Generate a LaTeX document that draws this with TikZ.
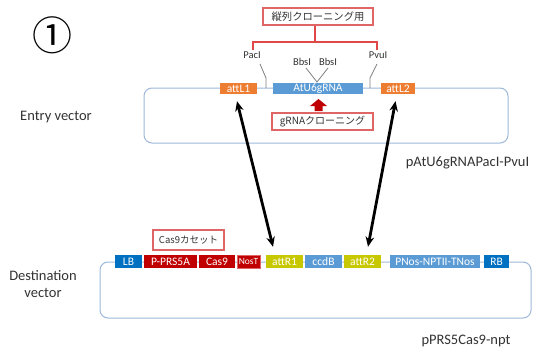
\documentclass[tikz,border=0pt]{standalone}
\usepackage{fontspec}
\setmainfont{Carlito}
\newfontfamily\jp{Noto Sans CJK JP}
\usetikzlibrary{arrows.meta,calc}
\definecolor{orangeL}{HTML}{ED7D31}
\definecolor{lblue}{HTML}{5B9BD5}
\definecolor{dblue}{HTML}{0070C0}
\definecolor{dred}{HTML}{C00000}
\definecolor{ylw}{HTML}{C8C800}
\definecolor{bbone}{HTML}{9DB9D9}
\definecolor{boxred}{HTML}{E06666}
\definecolor{brk}{HTML}{E04848}
\definecolor{txt}{HTML}{333333}
\definecolor{tick}{HTML}{808080}
\tikzset{
  seg/.style={inner sep=0pt, text=white, font=\fontsize{11.5}{12}\selectfont},
  eseg/.style={seg, minimum height=11pt},
  dseg/.style={seg, minimum height=13pt},
  backbone/.style={draw=bbone, line width=1pt, rounded corners=8pt},
  notebox/.style={draw=boxred, line width=1.1pt, fill=white, inner sep=0pt, text=txt},
  biglabel/.style={text=txt, font=\fontsize{14.5}{17}\selectfont, inner sep=0pt},
  site/.style={text=txt, font=\fontsize{10.5}{11}\selectfont, inner sep=0pt},
  siteline/.style={draw=tick, line width=0.8pt},
  bracket/.style={draw=brk, line width=1.2pt},
  dbl/.style={line width=2.8pt, {Stealth[length=10pt,width=8.5pt]}-{Stealth[length=10pt,width=8.5pt]}}
}
\begin{document}
\begin{tikzpicture}[x=1pt,y=-1pt]
\useasboundingbox (0,0) rectangle (534,348);
\fill[white] (0,0) rectangle (534,348);

% circled number
\node[inner sep=0pt, font=\jp\fontsize{40}{40}\selectfont] (num) at (52,35.5) {①};

% ---------- Entry vector ----------
\draw[backbone] (144,88) rectangle (508,143);
\node[biglabel] (entry) at (56,117) {Entry vector};

\node[eseg, fill=orangeL, minimum width=37pt] (attL1) at (238.5,88.5) {attL1};
\node[eseg, fill=lblue, minimum width=90pt] (u6) at (318,88.5) {AtU6gRNA};
\node[eseg, fill=orangeL, minimum width=34pt] (attL2) at (398,88.5) {attL2};

% restriction sites
\node[site] (pac) at (252,55) {PacI};
\node[site] (bbs1) at (302,62) {BbsI};
\node[site] (bbs2) at (328,62) {BbsI};
\node[site] (pvu) at (378,55) {PvuI};
\coordinate (pacA) at (260,64);
\coordinate (pacB) at (266,78);
\coordinate (pacC) at (266,88);
\coordinate (pvuA) at (377,64);
\coordinate (pvuB) at (370,78);
\coordinate (pvuC) at (370,88);
\coordinate (bbsA) at (306,68);
\coordinate (bbsB) at (328,68);
\coordinate (bbsV) at (317,82);
\draw[siteline] (pacA) -- (pacB) -- (pacC);
\draw[siteline] (pvuA) -- (pvuB) -- (pvuC);
\draw[siteline] (bbsA) -- (bbsV) -- (bbsB);

% tandem cloning bracket
\node[notebox, minimum width=110pt, minimum height=17pt, font=\jp\fontsize{10.3}{10}\selectfont] (tandem) at (318,16.5) {縦列クローニング用};
\coordinate (brL) at (253,50);
\coordinate (brLt) at (253,42);
\coordinate (brRt) at (377,42);
\coordinate (brR) at (377,50);
\coordinate (brM) at (315,42);
\draw[bracket] (brL) -- (brLt) -- (brRt) -- (brR);
\draw[bracket] (brM) -- (brM |- tandem.south);

% gRNA cloning
\fill[dred] (310,106) -- (318.5,99) -- (327,106) -- (322.5,106) -- (322.5,111) -- (314.5,111) -- (314.5,106) -- cycle;
\node[notebox, minimum width=101pt, minimum height=17pt, font=\jp\fontsize{10}{10}\selectfont] (gcl) at (322.5,121.5) {gRNAクローニング};

\node[biglabel, anchor=base] (pent) at (467.5,166) {pAtU6gRNAPacI-PvuI};

% ---------- Destination vector ----------
\draw[backbone] (100,262) rectangle (531,318);
\node[biglabel, align=center] (dest) at (43,284.5) {Destination\\vector};

\node[dseg, fill=dblue, minimum width=27pt] (LB) at (128.5,261.5) {LB};
\node[dseg, fill=dred, minimum width=53pt] (prs) at (170.5,261.5) {P-PRS5A};
\node[dseg, fill=dred, minimum width=36pt] (cas) at (217,261.5) {Cas9};
\node[dseg, fill=dred, draw=boxred, line width=0.6pt, minimum width=23pt, font=\fontsize{9.5}{10}\selectfont] (nos) at (248.5,261.5) {NosT};
\node[dseg, fill=ylw, minimum width=37pt] (attR1) at (284.5,261.5) {attR1};
\node[dseg, fill=lblue, minimum width=37pt] (ccdB) at (323.5,261.5) {ccdB};
\node[dseg, fill=ylw, minimum width=37pt] (attR2) at (362.5,261.5) {attR2};
\node[dseg, fill=lblue, minimum width=90pt] (npt) at (435,261.5) {PNos-NPTII-TNos};
\node[dseg, fill=dblue, minimum width=25pt] (RB) at (496.5,261.5) {RB};

\node[notebox, minimum width=71pt, minimum height=20pt, font=\jp\fontsize{9.5}{10}\selectfont] (cassette) at (188.5,240) {Cas9カセット};

\node[biglabel, anchor=base] (pdest) at (466,344.5) {pPRS5Cas9-npt};

% recombination arrows
\draw[dbl] ($(attL1.south)+(-1.5,7)$) -- ($(attR1.north)+(-11.5,-8)$);
\draw[dbl] ($(attL2.south)+(-2.5,7)$) -- ($(attR2.north)+(5.5,-8)$);
\end{tikzpicture}
\end{document}
